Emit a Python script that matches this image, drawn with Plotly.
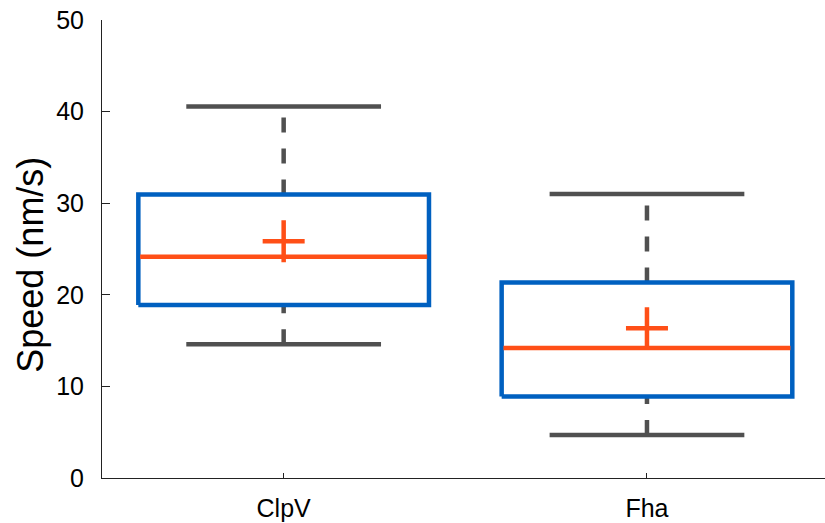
import plotly.graph_objects as go

# Box-plot summary statistics per strain (speed in nm/s)
categories = ["ClpV", "Fha"]
whisker_low = [14.6, 4.7]
q1 = [18.9, 8.9]
median = [24.15, 14.2]
q3 = [30.95, 21.35]
whisker_high = [40.55, 31.0]
mean = [25.85, 16.35]
y_ticks = [0, 10, 20, 30, 40, 50]

BOX_HALF = 0.4
CAP_HALF = 0.268
BLUE = "#0060c0"
ORANGE = "#ff4f17"
GRAY = "#505050"
LW = 4.5

fig = go.Figure()

for i, name in enumerate(categories):
    # dashed whiskers: lower one runs up from the cap, upper one runs up from the box
    fig.add_trace(go.Scatter(
        x=[i, i], y=[whisker_low[i], q1[i]], mode="lines",
        line=dict(color=GRAY, width=LW, dash="15px,16px"), hoverinfo="skip"))
    fig.add_trace(go.Scatter(
        x=[i, i], y=[q3[i], whisker_high[i]], mode="lines",
        line=dict(color=GRAY, width=LW, dash="15px,16px"), hoverinfo="skip"))
    # whisker caps
    for v in (whisker_low[i], whisker_high[i]):
        fig.add_trace(go.Scatter(
            x=[i - CAP_HALF, i + CAP_HALF], y=[v, v], mode="lines",
            line=dict(color=GRAY, width=LW), hoverinfo="skip"))
    # interquartile box
    fig.add_trace(go.Scatter(
        x=[i - BOX_HALF, i + BOX_HALF, i + BOX_HALF, i - BOX_HALF, i - BOX_HALF],
        y=[q1[i], q1[i], q3[i], q3[i], q1[i]], mode="lines",
        fill="toself", fillcolor="white",
        line=dict(color=BLUE, width=LW), hoverinfo="skip"))
    # median
    fig.add_trace(go.Scatter(
        x=[i - BOX_HALF + 0.005, i + BOX_HALF - 0.005], y=[median[i], median[i]],
        mode="lines", line=dict(color=ORANGE, width=LW), hoverinfo="skip"))

# means
fig.add_trace(go.Scatter(
    x=list(range(len(categories))), y=mean, mode="markers",
    marker=dict(symbol="cross-thin", size=30, line=dict(color=ORANGE, width=4.5)),
    hoverinfo="skip"))

fig.update_layout(
    width=825, height=523,
    margin=dict(l=102, r=0, t=20, b=45),
    paper_bgcolor="white", plot_bgcolor="white",
    showlegend=False,
    font=dict(family="Liberation Sans, Arial, sans-serif", color="black", size=25),
)
fig.update_xaxes(
    range=[-0.5, 1.49], tickvals=list(range(len(categories))), ticktext=categories,
    showline=True, linecolor="#222222", linewidth=1,
    ticks="inside", ticklen=5, tickcolor="#222222",
    showgrid=False, zeroline=False, ticklabelstandoff=8,
    tickfont=dict(size=25),
)
fig.update_yaxes(
    range=[0, 50], tickvals=y_ticks,
    showline=True, linecolor="#222222", linewidth=1,
    ticks="inside", ticklen=8, tickcolor="#222222",
    showgrid=False, zeroline=False, ticklabelstandoff=12,
    tickfont=dict(size=25),
)

# y-axis title, placed as a rotated annotation
fig.add_annotation(
    text="Speed (nm/s)", textangle=-90,
    xref="paper", yref="paper", x=-0.1, y=0.465,
    xanchor="center", yanchor="middle", showarrow=False,
    font=dict(size=36),
)

fig.write_html("out.html")
